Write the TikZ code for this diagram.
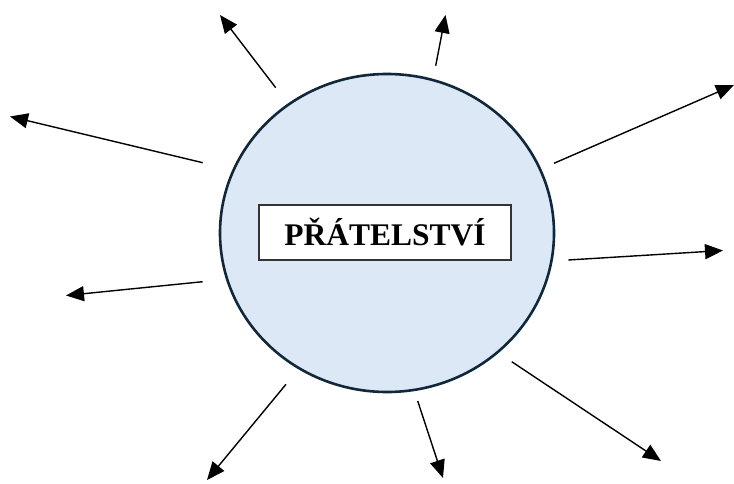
\documentclass[tikz,border=0pt]{standalone}
\usepackage{fontspec}
\setmainfont{Liberation Serif}
\usetikzlibrary{shapes.geometric,arrows.meta}
\definecolor{fillblue}{RGB}{220,232,245}
\definecolor{rimblue}{RGB}{16,40,58}
\tikzset{
  ray/.style={line width=1.4pt,-{Triangle[length=18pt,width=15pt]}},
  hub/.style={ellipse,draw=rimblue,line width=2.6pt,fill=fillblue,minimum width=334pt,minimum height=318pt,inner sep=0pt},
  label box/.style={draw=black!80,line width=1.3pt,fill=white,minimum width=252pt,minimum height=55pt,inner sep=0pt,font=\fontsize{31.5}{36}\selectfont\bfseries}
}
\begin{document}
\begin{tikzpicture}[x=1pt,y=-1pt]
\useasboundingbox (0,0) rectangle (734,484);
\node[hub] (circ) at (387,233) {};
\node[label box] (lbl) at (385,232.5) {PŘÁTELSTVÍ};
% start and end points
\coordinate (s1) at (275.7,87.7);  \coordinate (e1) at (220,15);
\coordinate (s2) at (435.7,65.7);  \coordinate (e2) at (445.5,15);
\coordinate (s3) at (554,163.3);   \coordinate (e3) at (734,85);
\coordinate (s4) at (568.3,260);   \coordinate (e4) at (723,250.5);
\coordinate (s5) at (511.7,361.7); \coordinate (e5) at (661,461);
\coordinate (s6) at (417.7,401);   \coordinate (e6) at (443,478);
\coordinate (s7) at (286,384.3);   \coordinate (e7) at (207,480);
\coordinate (s8) at (202.7,281.7); \coordinate (e8) at (66,295.5);
\coordinate (s9) at (202.7,162.7); \coordinate (e9) at (10,116.5);
\foreach \i in {1,...,9} {\draw[ray] (s\i) -- (e\i);}
\end{tikzpicture}
\end{document}
